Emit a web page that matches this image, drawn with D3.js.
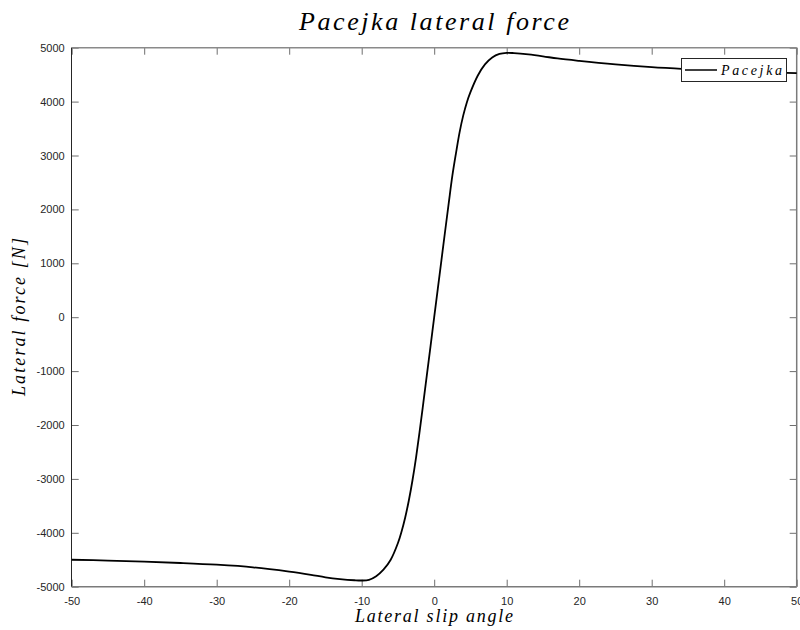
<!DOCTYPE html>
<html>
<head>
<meta charset="utf-8">
<script src="https://cdn.jsdelivr.net/npm/d3@7"></script>
<style>
  html, body { margin: 0; padding: 0; background: #fff; }
  svg { display: block; }
</style>
</head>
<body>
<svg id="chart" width="800" height="630"></svg>
<script>
// ---- data ----
const slipAngle = [-50, -45, -40, -35, -30, -25, -20, -17, -15, -13, -11, -10, -9, -8, -7, -6, -5, -4.5, -4, -3.5, -3, -2.5, -2, -1.5, -1, -0.5,
  0, 0.5, 1, 1.5, 2, 2.5, 3, 3.5, 4, 4.5, 5, 6, 7, 8, 9, 10, 11, 13, 15, 17, 20, 25, 30, 35, 40, 45, 50];
const lateralForce = [-4500, -4515, -4535, -4560, -4592, -4640, -4720, -4780, -4825, -4858, -4880, -4885, -4872, -4805, -4685, -4500, -4190, -3975, -3715, -3400, -3030, -2600, -2110, -1590, -1060, -530,
  0, 530, 1060, 1590, 2110, 2620, 3040, 3430, 3740, 3985, 4175, 4480, 4690, 4820, 4885, 4905, 4900, 4875, 4840, 4800, 4755, 4690, 4638, 4600, 4568, 4545, 4530];
const xTicks = [-50, -40, -30, -20, -10, 0, 10, 20, 30, 40, 50];
const yTicks = [-5000, -4000, -3000, -2000, -1000, 0, 1000, 2000, 3000, 4000, 5000];
const titleText = "Pacejka lateral force";
const xLabelText = "Lateral slip angle";
const yLabelText = "Lateral force [N]";
const legendText = "Pacejka";

const svg = d3.select("#chart");
const L = 71.7, R = 796.7, T = 47.7, B = 586.7;
const x = d3.scaleLinear().domain([-50, 50]).range([L, R]);
const y = d3.scaleLinear().domain([-5000, 5000]).range([B, T]);

const serif = "'Liberation Serif', 'DejaVu Serif', serif";
const sans = "'Liberation Sans', Arial, Helvetica, sans-serif";
const axisCol = "#262626";
const tickCol = "#6e6e6e";
const plainFmt = d => String(d);

// axes with inward ticks
function styleAxis(g, labels) {
  g.select(".domain").remove();
  g.selectAll(".tick line").attr("stroke", tickCol).attr("stroke-width", 1);
  g.selectAll(".tick text").attr("font-family", sans).attr("font-size", 11).attr("fill", axisCol);
  if (!labels) g.selectAll(".tick text").remove();
}
svg.append("g").attr("transform", `translate(0,${B})`)
  .call(d3.axisBottom(x).tickValues(xTicks).tickSizeInner(-7).tickSizeOuter(0).tickPadding(11).tickFormat(plainFmt))
  .call(g => styleAxis(g, true));
svg.append("g").attr("transform", `translate(0,${T})`)
  .call(d3.axisTop(x).tickValues(xTicks).tickSizeInner(-7).tickSizeOuter(0))
  .call(g => styleAxis(g, false));
svg.append("g").attr("transform", `translate(${L},0)`)
  .call(d3.axisLeft(y).tickValues(yTicks).tickSizeInner(-7).tickSizeOuter(0).tickPadding(7).tickFormat(plainFmt))
  .call(g => styleAxis(g, true));
svg.append("g").attr("transform", `translate(${R},0)`)
  .call(d3.axisRight(y).tickValues(yTicks).tickSizeInner(-7).tickSizeOuter(0))
  .call(g => styleAxis(g, false));

// box
svg.append("line").attr("x1", L).attr("x2", R).attr("y1", B).attr("y2", B).attr("stroke", "#7a7a7a").attr("stroke-width", 1.5);
svg.append("line").attr("x1", L).attr("x2", R).attr("y1", T).attr("y2", T).attr("stroke", "#8a8a8a").attr("stroke-width", 1.5);
svg.append("line").attr("x1", 71.5).attr("x2", 71.5).attr("y1", T).attr("y2", B).attr("stroke", axisCol).attr("stroke-width", 1);
svg.append("line").attr("x1", R).attr("x2", R).attr("y1", T).attr("y2", B).attr("stroke", "#7a7a7a").attr("stroke-width", 1.5);

// curve
const pts = slipAngle.map((a, i) => [a, lateralForce[i]]);
svg.append("path").datum(pts)
  .attr("fill", "none").attr("stroke", "#000").attr("stroke-width", 1.8)
  .attr("d", d3.line().x(d => x(d[0])).y(d => y(d[1])).curve(d3.curveCatmullRom.alpha(0.5)));

// legend
const lg = svg.append("g");
lg.append("rect").attr("x", 681.5).attr("y", 58.5).attr("width", 105).attr("height", 23)
  .attr("fill", "#fff").attr("stroke", axisCol).attr("stroke-width", 1);
lg.append("line").attr("x1", 685).attr("x2", 717).attr("y1", 70).attr("y2", 70).attr("stroke", "#000").attr("stroke-width", 1.5);
lg.append("text").attr("x", 721).attr("y", 74.5).attr("font-family", serif).attr("font-style", "italic")
  .attr("font-size", 14).attr("textLength", 61).attr("lengthAdjust", "spacing").attr("fill", "#000").text(legendText);

// title and labels
svg.append("text").attr("x", 434).attr("y", 30).attr("text-anchor", "middle")
  .attr("font-family", serif).attr("font-style", "italic").attr("font-size", 26)
  .attr("textLength", 270).attr("lengthAdjust", "spacing").attr("fill", "#000").text(titleText);
svg.append("text").attr("x", 434).attr("y", 622).attr("text-anchor", "middle")
  .attr("font-family", serif).attr("font-style", "italic").attr("font-size", 18)
  .attr("textLength", 158).attr("lengthAdjust", "spacing").attr("fill", "#000").text(xLabelText);
svg.append("text").attr("transform", "translate(25,317) rotate(-90)").attr("text-anchor", "middle")
  .attr("font-family", serif).attr("font-style", "italic").attr("font-size", 18)
  .attr("textLength", 158).attr("lengthAdjust", "spacing").attr("fill", "#000").text(yLabelText);
</script>
</body>
</html>
